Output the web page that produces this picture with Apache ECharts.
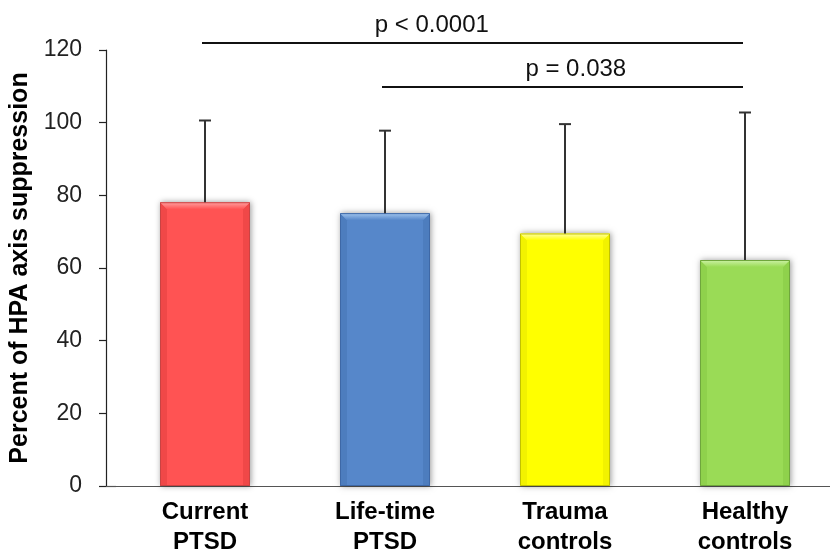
<!DOCTYPE html>
<html>
<head>
<meta charset="utf-8">
<script src="https://cdn.jsdelivr.net/npm/echarts@6/dist/echarts.min.js"></script>
<style>
  html, body { margin: 0; padding: 0; background: #fff; }
  #chart { width: 830px; height: 552px; }
</style>
</head>
<body>
<div id="chart"></div>
<script>
// Group labels along the x axis
const categories = ['Current\nPTSD', 'Life-time\nPTSD', 'Trauma\ncontrols', 'Healthy\ncontrols'];
// Mean percent of HPA axis suppression per group
const means = [78.1, 75.1, 69.5, 62.2];
// Standard deviation per group (drawn as upward error bars)
const sds = [22.5, 22.7, 30.1, 40.6];
// Y axis tick values
const yTicks = [0, 20, 40, 60, 80, 100, 120];
// Pairwise comparisons: group indices, bracket height, p-value text, label centre (category units)
const compFrom = [0, 1];
const compTo = [3, 3];
const compLevel = [121.9, 109.8];
const compText = ['p < 0.0001', 'p = 0.038'];
const compLabelAt = [1.26, 2.06];

const palette = [
  { main: '#FF5353', top: '#FFA0A0', side: '#F04848', edge: '#C94343' },
  { main: '#5687CA', top: '#A2C6EE', side: '#4D7DBE', edge: '#3E68A6' },
  { main: '#FFFF00', top: '#FFFFA8', side: '#F2F200', edge: '#C2C200' },
  { main: '#9ADB56', top: '#CDF2A6', side: '#8FD14C', edge: '#6FA63C' }
];

const FONT = '"Liberation Sans", Arial, sans-serif';

const chart = echarts.init(document.getElementById('chart'), null, { renderer: 'canvas' });

const barData = means.map((m, i) => [i, m]);
const errData = means.map((m, i) => [i, m, m + sds[i]]);
const compData = compFrom.map((f, i) => [f, compTo[i], compLevel[i], compLabelAt[i]]);

chart.setOption({
  animation: false,
  backgroundColor: '#ffffff',
  grid: { left: 115, top: 50, width: 720, height: 436, outerBoundsMode: 'none', containLabel: false },
  xAxis: {
    type: 'category',
    data: categories,
    boundaryGap: true,
    axisLine: { show: true, lineStyle: { color: '#555', width: 1.2 } },
    axisTick: { show: false },
    axisLabel: {
      interval: 0,
      margin: 11,
      fontFamily: FONT,
      fontSize: 24,
      fontWeight: 'bold',
      lineHeight: 30,
      color: '#000'
    },
    splitLine: { show: false }
  },
  yAxis: {
    type: 'value',
    min: yTicks[0],
    max: yTicks[yTicks.length - 1],
    interval: yTicks[1] - yTicks[0],
    offset: 9,
    name: 'Percent of HPA axis suppression',
    nameLocation: 'middle',
    nameRotate: 90,
    nameGap: 65,
    nameTextStyle: { fontFamily: FONT, fontSize: 25, fontWeight: 'bold', color: '#000' },
    axisLine: { show: true, lineStyle: { color: '#222', width: 1.2 } },
    axisTick: { show: true, length: 7, lineStyle: { color: '#222', width: 1.2 } },
    axisLabel: { margin: 24, fontFamily: FONT, fontSize: 23, color: '#222' },
    splitLine: { show: false }
  },
  series: [
    {
      // Bevelled bars
      type: 'custom',
      clip: false,
      data: barData,
      renderItem: function (params, api) {
        const idx = api.value(0);
        const top = api.coord([idx, api.value(1)]);
        const base = api.coord([idx, 0]);
        const w = api.size([1, 0])[0] * 0.5;
        const x0 = top[0] - w / 2, x1 = top[0] + w / 2;
        const y0 = top[1], y1 = base[1];
        const c = palette[idx];
        const b = 7;
        return {
          type: 'group',
          children: [
            { type: 'rect', shape: { x: x0, y: y0, width: w, height: y1 - y0 },
              style: { fill: c.main, shadowBlur: 6, shadowColor: 'rgba(0,0,0,0.4)', shadowOffsetX: 1, shadowOffsetY: 0 } },
            { type: 'polygon', shape: { points: [[x0, y0], [x0 + b, y0 + b], [x0 + b, y1], [x0, y1]] },
              style: { fill: c.side } },
            { type: 'polygon', shape: { points: [[x1, y0], [x1 - b, y0 + b], [x1 - b, y1], [x1, y1]] },
              style: { fill: c.side } },
            { type: 'polygon', shape: { points: [[x0, y0], [x1, y0], [x1 - b, y0 + b], [x0 + b, y0 + b]] },
              style: { fill: {
                type: 'linear', x: 0, y: 0, x2: 0, y2: 1,
                colorStops: [{ offset: 0, color: c.top }, { offset: 1, color: c.main }]
              } } },
            { type: 'rect', shape: { x: x0 + 0.5, y: y0 + 0.5, width: w - 1, height: y1 - y0 - 1 },
              style: { fill: null, stroke: c.edge, lineWidth: 1 } }
          ]
        };
      },
      z: 2
    },
    {
      // Upward SD error bars
      type: 'custom',
      clip: false,
      data: errData,
      renderItem: function (params, api) {
        const idx = api.value(0);
        const lo = api.coord([idx, api.value(1)]);
        const hi = api.coord([idx, api.value(2)]);
        const cap = 6;
        return {
          type: 'group',
          children: [
            { type: 'line', shape: { x1: lo[0], y1: lo[1], x2: hi[0], y2: hi[1] },
              style: { stroke: '#333', lineWidth: 2 } },
            { type: 'line', shape: { x1: hi[0] - cap, y1: hi[1], x2: hi[0] + cap, y2: hi[1] },
              style: { stroke: '#333', lineWidth: 2 } }
          ]
        };
      },
      z: 3
    },
    {
      // Significance brackets with p-values
      type: 'custom',
      clip: false,
      data: compData,
      renderItem: function (params, api) {
        const a = api.coord([api.value(0), api.value(2)]);
        const b = api.coord([api.value(1), api.value(2)]);
        const at = api.value(3);
        const whole = Math.floor(at);
        const t = api.coord([whole, api.value(2)]);
        const tx = t[0] + (at - whole) * api.size([1, 0])[0];
        return {
          type: 'group',
          children: [
            { type: 'line', shape: { x1: a[0] - 3, y1: a[1], x2: b[0] - 2, y2: b[1] },
              style: { stroke: '#111', lineWidth: 2 } },
            { type: 'text', style: { x: tx, y: t[1] - 6, text: compText[params.dataIndex],
              fontFamily: FONT, fontSize: 24, fill: '#111', align: 'center', verticalAlign: 'bottom' } }
          ]
        };
      },
      z: 4
    }
  ]
});

// Extend the x axis baseline left to meet the offset y axis
const origin = chart.convertToPixel({ gridIndex: 0 }, [0, 0]);
const gridLeft = 115;
chart.setOption({
  graphic: [{
    type: 'line',
    shape: { x1: gridLeft - 9, y1: Math.round(origin[1]) + 0.5, x2: gridLeft + 1, y2: Math.round(origin[1]) + 0.5 },
    style: { stroke: '#555', lineWidth: 1.2 },
    z: 1
  }]
});
</script>
</body>
</html>
